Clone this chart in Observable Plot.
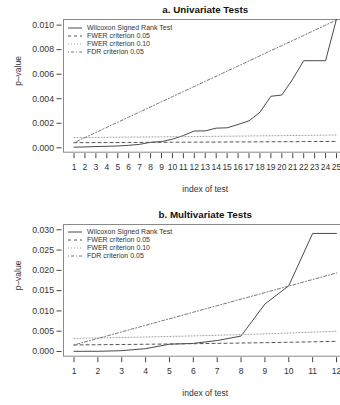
<!DOCTYPE html>
<html><head><meta charset="utf-8">
<script src="https://cdn.jsdelivr.net/npm/d3@7"></script>
<script src="https://cdn.jsdelivr.net/npm/@observablehq/plot@0.6"></script>
<style>
html,body{margin:0;padding:0;background:#fff;overflow:hidden;width:340px;height:405px;}
#wrap{position:relative;width:340px;height:405px;overflow:hidden;font-family:"Liberation Sans",Arial,sans-serif;}
.panel{position:absolute;left:0;width:350px;}
.panel svg{max-width:none !important;}
.legend{position:absolute;left:67px;font-size:7px;color:#333;line-height:8px;}
.legend .row{height:8px;display:flex;align-items:center;white-space:nowrap;}
.legend svg{width:16px;height:8px;margin-right:4px;}
</style></head>
<body><div id="wrap"></div>
<script>
// ---- data ----
const seriesNames = ["Wilcoxon Signed Rank Test", "FWER criterion 0.05", "FWER criterion 0.10", "FDR criterion 0.05"];

const uniIndex = [1,2,3,4,5,6,7,8,9,10,11,12,13,14,15,16,17,18,19,20,21,22,23,24,25];
const uniWilcoxon = [0.00005,0.00007,0.0001,0.00012,0.00015,0.0002,0.00028,0.00045,0.0005,0.0007,0.001,0.00137,0.00138,0.0016,0.00163,0.0019,0.0022,0.0029,0.0042,0.0043,0.0056,0.0071,0.0071,0.0071,0.0105];
const uniFwer05 = [0.000417,0.000420,0.000424,0.000427,0.000431,0.000435,0.000439,0.000442,0.000446,0.000450,0.000455,0.000459,0.000463,0.000467,0.000472,0.000476,0.000481,0.000485,0.000490,0.000495,0.000500,0.000505,0.000510,0.000515,0.000521];
const uniFwer10 = [0.000833,0.000840,0.000847,0.000855,0.000862,0.000870,0.000877,0.000885,0.000893,0.000901,0.000909,0.000917,0.000926,0.000935,0.000943,0.000952,0.000962,0.000971,0.000980,0.000990,0.001000,0.001010,0.001020,0.001031,0.001042];
const uniFdr = [0.000417,0.000833,0.00125,0.001667,0.002083,0.0025,0.002917,0.003333,0.00375,0.004167,0.004583,0.005,0.005417,0.005833,0.00625,0.006667,0.007083,0.0075,0.007917,0.008333,0.00875,0.009167,0.009583,0.01,0.010417];
const uniYTicks = [0, 0.002, 0.004, 0.006, 0.008, 0.010];

const mulIndex = [1,2,3,4,5,6,7,8,9,10,11,12];
const mulWilcoxon = [0.00005,0.00005,0.0002,0.0007,0.0018,0.002,0.0027,0.0038,0.0117,0.0162,0.0291,0.0291];
const mulFwer05 = [0.001613,0.001667,0.001724,0.001786,0.001852,0.001923,0.002,0.002083,0.002174,0.002273,0.002381,0.0025];
const mulFwer10 = [0.003226,0.003333,0.003448,0.003571,0.003704,0.003846,0.004,0.004167,0.004348,0.004545,0.004762,0.005];
const mulFdr = [0.001613,0.003226,0.004839,0.006452,0.008065,0.009677,0.01129,0.012903,0.014516,0.016129,0.017742,0.019355];
const mulYTicks = [0, 0.005, 0.010, 0.015, 0.020, 0.025, 0.030];

// ---- styles ----
const styles = [
  {stroke:"#4a4a4a", dash:null},
  {stroke:"#555", dash:"3,3"},
  {stroke:"#a0a0a0", dash:"1,2"},
  {stroke:"#777", dash:"1,2,3,2"}
];
const FONT = '"Liberation Sans", Arial, sans-serif';

function panel({title, idx, series, yTicks, xDomain, yDomain, height, marginTop, marginBottom, top, legendTop, xFont}) {
  const rows = [];
  series.forEach((vals, s) => idx.forEach((i, k) => rows.push({s, x: i, y: vals[k]})));
  const lineMarks = styles.map((st, s) => Plot.line(rows.filter(r => r.s === s), {
    x: "x", y: "y", stroke: st.stroke, strokeWidth: 1, strokeDasharray: st.dash, clip: true
  }));
  const chart = Plot.plot({
    width: 350, height, marginLeft: 63, marginRight: 3.5, marginTop, marginBottom,
    style: {fontFamily: FONT, background: "transparent", overflow: "visible", maxWidth: "none"},
    x: {domain: xDomain, axis: null},
    y: {domain: yDomain, axis: null},
    marks: [
      Plot.frame({stroke: "#8a8a8a", strokeWidth: 1}),
      ...lineMarks,
      Plot.axisY({ticks: yTicks, tickFormat: d => d.toFixed(3), tickSize: 5, tickPadding: 3, dx: -1.5,
        fontSize: 8.7, color: "#333", stroke: "#444", label: null}),
      Plot.axisX({ticks: idx, tickFormat: d => String(d), tickSize: 5, tickPadding: 5, dy: 1.5,
        fontSize: xFont, color: "#333", stroke: "#444", label: null}),
      Plot.text([title], {text: d => d, frameAnchor: "top", dy: -13, fontWeight: "bold", fontSize: 9.8, fill: "#111"}),
      Plot.text(["index of test"], {text: d => d, frameAnchor: "bottom", dy: 40, fontSize: 8.5, fill: "#333"}),
      Plot.text(["p\u2013value"], {text: d => d, frameAnchor: "left", dx: -45, rotate: -90, fontSize: 8.5, fill: "#333"})
    ]
  });
  const div = document.createElement("div");
  div.className = "panel";
  div.style.top = top + "px";
  div.appendChild(chart);
  document.getElementById("wrap").appendChild(div);

  const leg = document.createElement("div");
  leg.className = "legend";
  leg.style.top = legendTop + "px";
  seriesNames.forEach((name, s) => {
    const st = styles[s];
    const row = document.createElement("div");
    row.className = "row";
    row.innerHTML = `<svg viewBox="0 0 16 8"><line x1="1" x2="15" y1="4" y2="4" stroke="${st.stroke}" stroke-width="1" ${st.dash ? `stroke-dasharray="${st.dash}"` : ""}/></svg><span>${name}</span>`;
    leg.appendChild(row);
  });
  document.getElementById("wrap").appendChild(leg);
}

panel({title: "a. Univariate Tests", idx: uniIndex,
  series: [uniWilcoxon, uniFwer05, uniFwer10, uniFdr], yTicks: uniYTicks,
  xDomain: [0.04, 25.96], yDomain: [-0.00036, 0.01046],
  height: 200, marginTop: 19, marginBottom: 48.3, top: 0, legendTop: 24, xFont: 8.5});

panel({title: "b. Multivariate Tests", idx: mulIndex,
  series: [mulWilcoxon, mulFwer05, mulFwer10, mulFdr], yTicks: mulYTicks,
  xDomain: [0.56, 12.44], yDomain: [-0.00116, 0.0313],
  height: 205, marginTop: 24, marginBottom: 49.3, top: 200, legendTop: 228, xFont: 8.5});
</script></body></html>
